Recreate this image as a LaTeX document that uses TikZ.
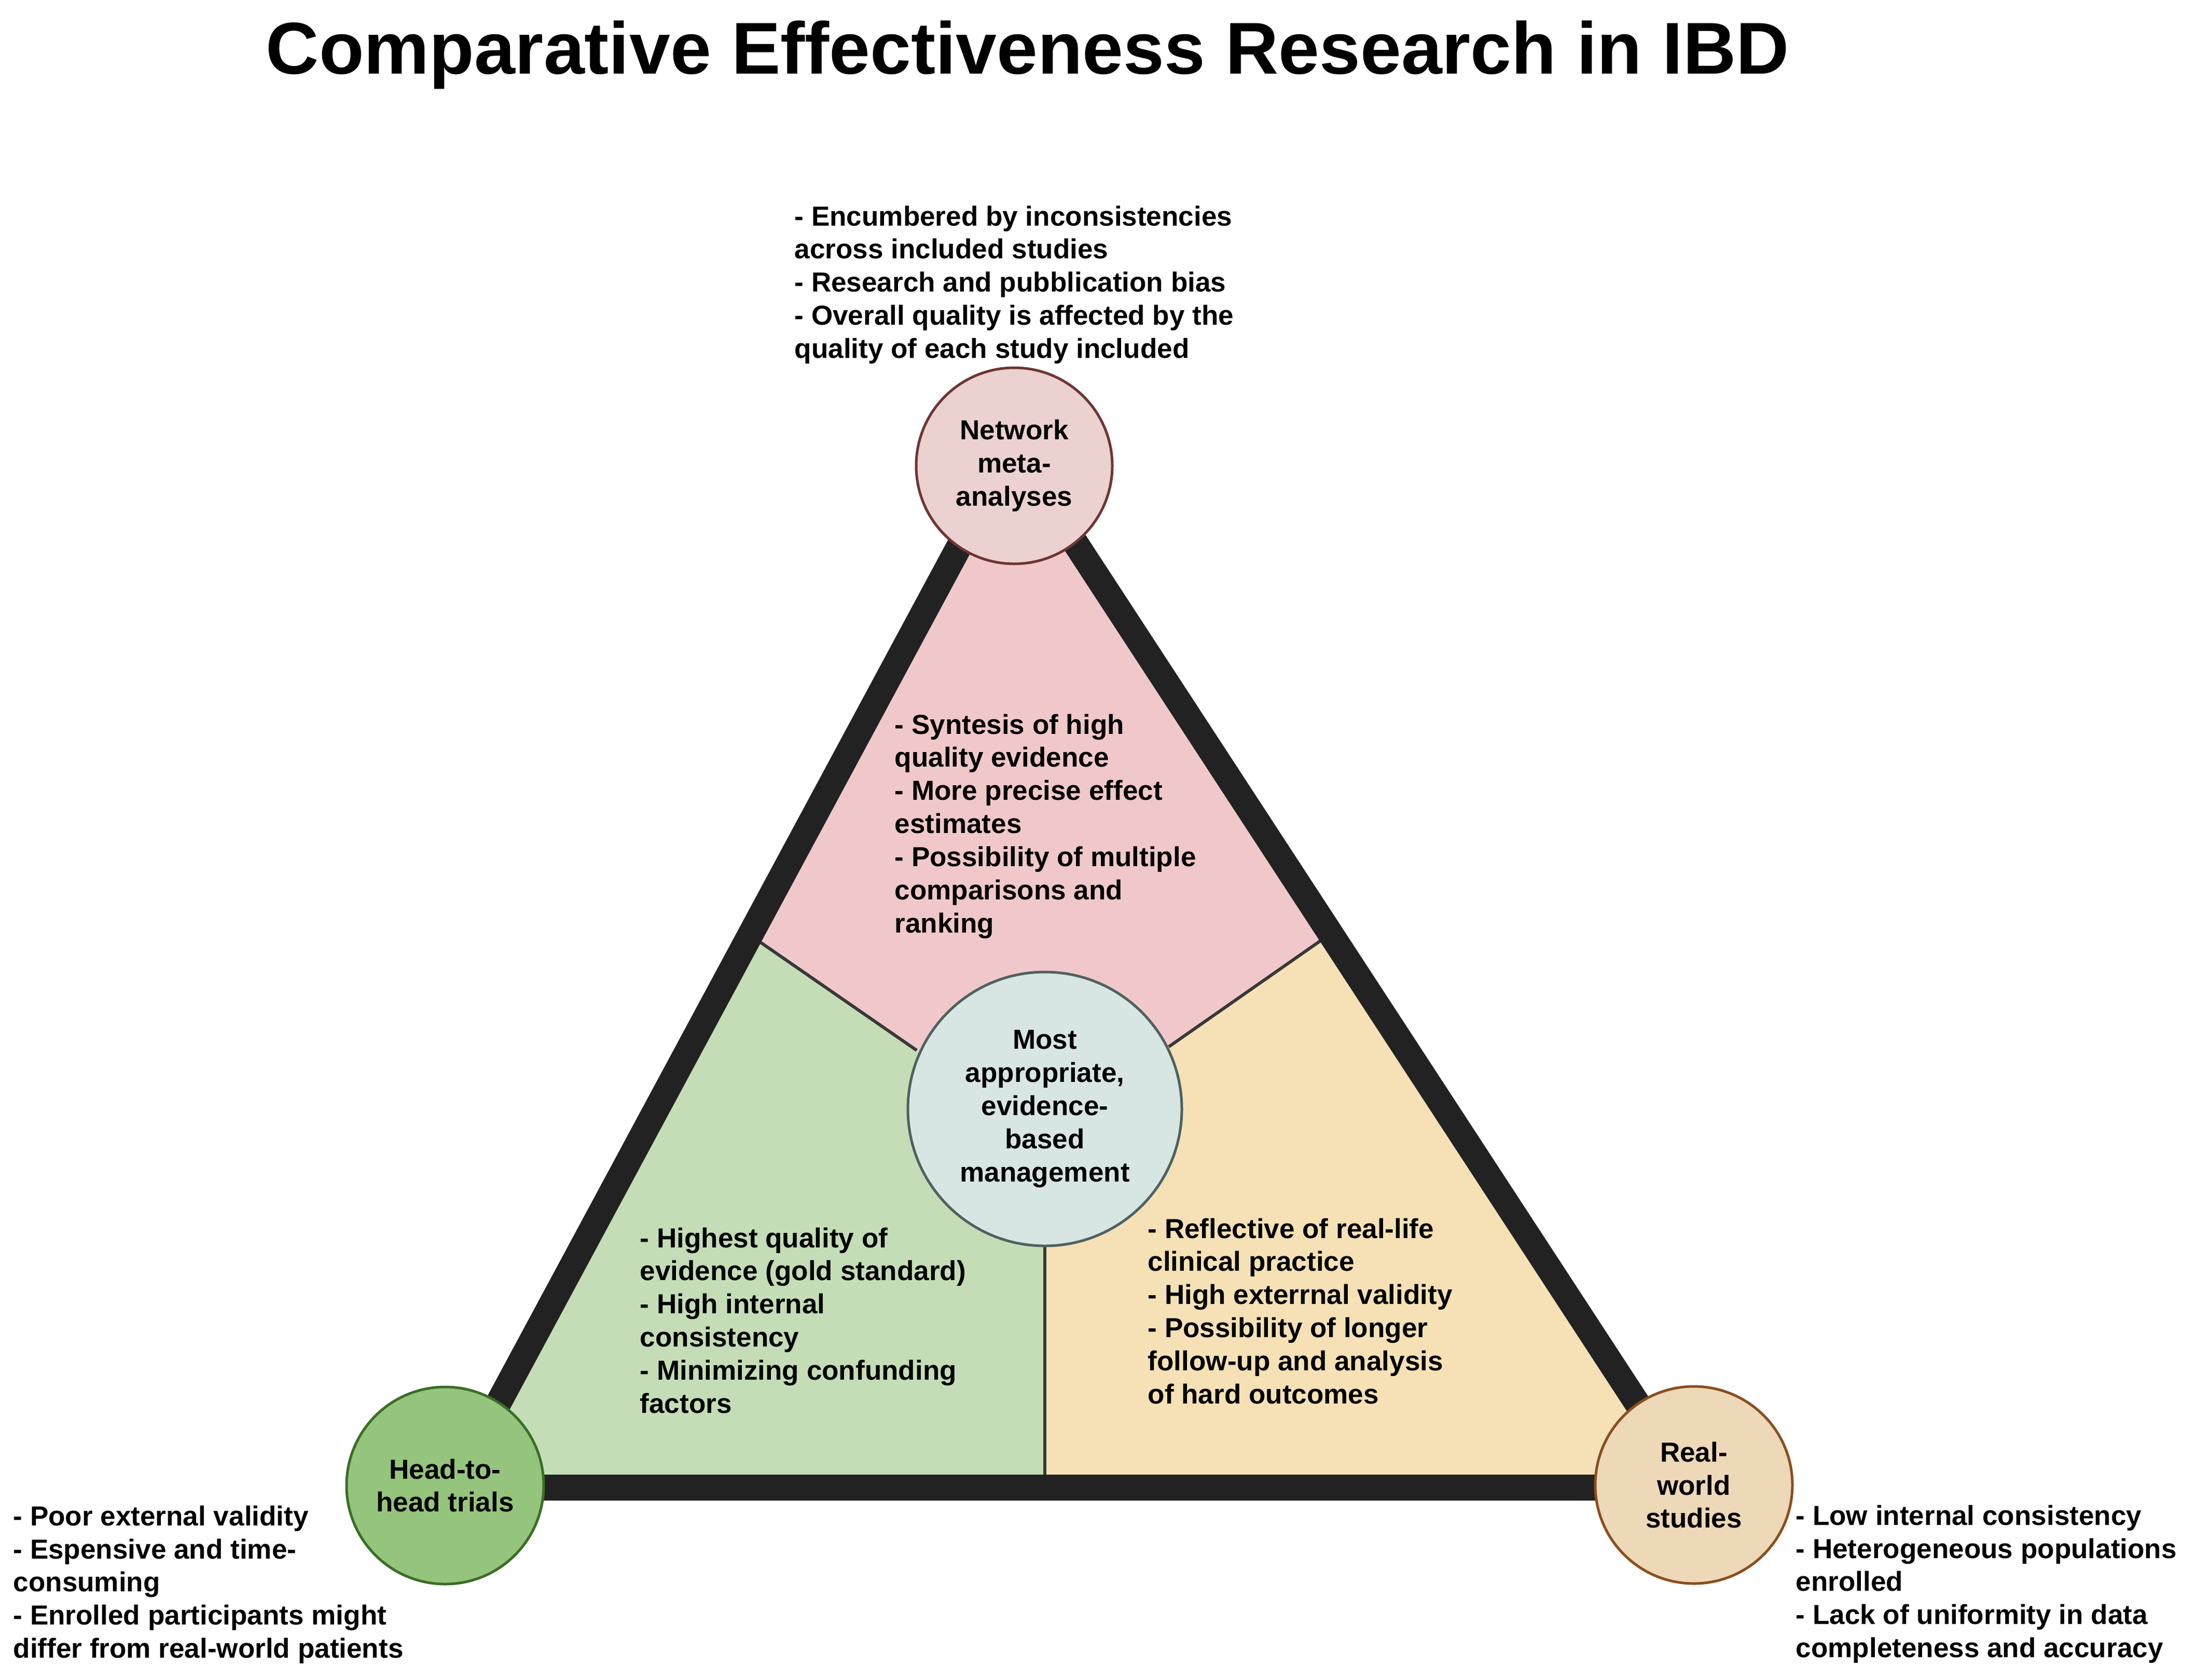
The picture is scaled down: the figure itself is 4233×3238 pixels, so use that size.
\documentclass[tikz,border=0pt]{standalone}
\usepackage{fontspec}
\setmainfont{Liberation Sans}
\newcommand{\bodyfnt}{\fontsize{15.1}{18.2}\selectfont\bfseries}
\newcommand{\lstbox}[1]{\parbox[t]{120mm}{\raggedright\bodyfnt #1}}
\definecolor{pinkfill}{HTML}{F1C8CA}
\definecolor{greenfill}{HTML}{C4DDB6}
\definecolor{yellowfill}{HTML}{F5E1B5}
\definecolor{bandcol}{HTML}{222222}
\definecolor{nmafill}{HTML}{EBD1D0}
\definecolor{nmaline}{HTML}{6E3532}
\definecolor{hthfill}{HTML}{95C47D}
\definecolor{hthline}{HTML}{3B6E26}
\definecolor{rwfill}{HTML}{EDD8B8}
\definecolor{rwline}{HTML}{8B4E1E}
\definecolor{ctrfill}{HTML}{D8E6E3}
\definecolor{ctrline}{HTML}{4F6160}
\begin{document}
\begin{tikzpicture}[x=0.1mm,y=-0.1mm,
  band/.style={draw=bandcol,line width=5mm,line join=miter},
  divider/.style={draw=bandcol!90,line width=0.6mm},
  bubble/.style={circle,inner sep=0pt,line width=0.5mm,align=center,font=\bodyfnt},
  listtext/.style={anchor=base west,inner sep=0pt}]
\useasboundingbox (0,0) rectangle (4233,3238);
\fill[white] (0,0) rectangle (4233,3238);

\coordinate (A) at (1952,862);
\coordinate (BL) at (873,2868);
\coordinate (BR) at (3262,2868);
\coordinate (L0) at (1446,1803);
\coordinate (R0) at (2565,1800);
\coordinate (B0) at (2014,2868);
\coordinate (Lj) at (1767,2025);
\coordinate (Rj) at (2253,2018);
\coordinate (C) at (2014,2138);

\fill[pinkfill] (A) -- (L0) -- (Lj) -- (C) -- (Rj) -- (R0) -- cycle;
\fill[greenfill] (L0) -- (BL) -- (B0) -- (C) -- (Lj) -- cycle;
\fill[yellowfill] (R0) -- (BR) -- (B0) -- (C) -- (Rj) -- cycle;
\draw[divider] (L0) -- (Lj);
\draw[divider] (R0) -- (Rj);
\draw[divider] (B0) -- (C);
\draw[band] (A) -- (BL) -- (BR) -- cycle;

\node[bubble,draw=nmaline,fill=nmafill,minimum size=37.8mm] (nma) at (1955,898) {Network\\meta-\\analyses};
\node[bubble,draw=ctrline,fill=ctrfill,minimum size=52.8mm] (ctr) at (C) {Most\\appropriate,\\evidence-\\based\\management};
\node[bubble,draw=hthline,fill=hthfill,minimum size=38mm] (hth) at (858,2864) {Head-to-\\head trials};
\node[bubble,draw=rwline,fill=rwfill,minimum size=38mm] (rw) at (3265,2863) {Real-\\world\\studies};

\node[anchor=base,inner sep=0pt,font=\fontsize{40.3}{48}\selectfont\bfseries] (title) at (1981,142) {Comparative Effectiveness Research in IBD};

\node[listtext] (nmaweak) at (1531,435) {\lstbox{- Encumbered by inconsistencies\\across included studies\\- Research and pubblication bias\\- Overall quality is affected by the\\quality of each study included}};
\node[listtext] (nmastrong) at (1724,1415) {\lstbox{- Syntesis of high\\quality evidence\\- More precise effect\\estimates\\- Possibility of multiple\\comparisons and\\ranking}};
\node[listtext] (hthstrong) at (1233,2405) {\lstbox{- Highest quality of\\evidence (gold standard)\\- High internal\\consistency\\- Minimizing confunding\\factors}};
\node[listtext] (rwstrong) at (2212,2387) {\lstbox{- Reflective of real-life\\clinical practice\\- High exterrnal validity\\- Possibility of longer\\follow-up and analysis\\of hard outcomes}};
\node[listtext] (hthweak) at (25,2941) {\lstbox{- Poor external validity\\- Espensive and time-\\consuming\\- Enrolled participants might\\differ from real-world patients}};
\node[listtext] (rwweak) at (3461,2940) {\lstbox{- Low internal consistency\\- Heterogeneous populations\\enrolled\\- Lack of uniformity in data\\completeness and accuracy}};
\end{tikzpicture}
\end{document}
